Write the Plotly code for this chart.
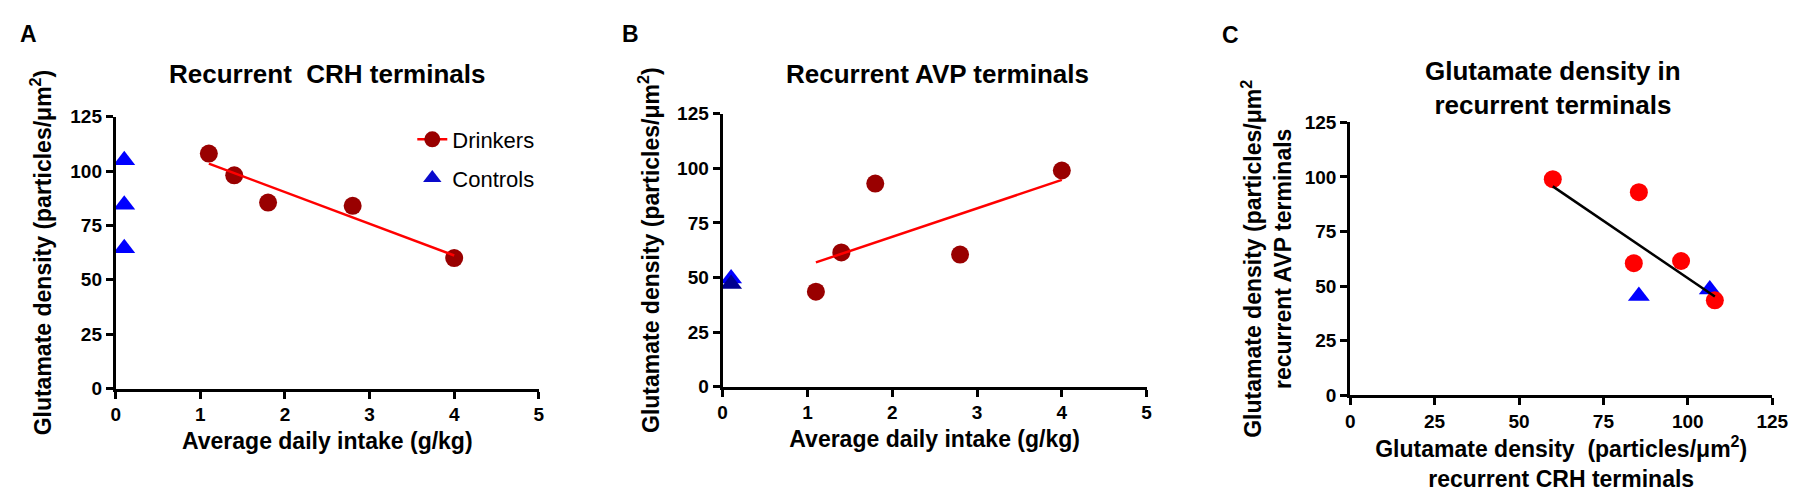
import numpy as np
import plotly.graph_objects as go

# ---------------------------
# Data
# ---------------------------
intake = [1.1, 1.4, 1.8, 2.8, 4.0]                 # g/kg, drinkers
crh_drinkers = [108, 98, 85.5, 84, 60]             # particles/um2, CRH terminals
avp_drinkers = [43.5, 61.5, 93, 60.5, 99]          # particles/um2, AVP terminals

control_intake = [0.1, 0.1, 0.1]
crh_controls = [105, 84.5, 64.5]
control_intake_b = [0.1, 0.1]
avp_controls_b = [49.5, 47]
crh_controls_c = [85.5, 106.5]
avp_controls_c = [45.5, 48.5]

x_ticks_intake = [0, 1, 2, 3, 4, 5]
y_ticks = [0, 25, 50, 75, 100, 125]

DARK_RED = "#990000"
RED = "#FF0000"
BLUE = "#0000FF"
NAVY = "#000090"
FONT = "Liberation Sans, Arial, sans-serif"

W, H = 1800, 494


def px_x(p):
    return p / W


def px_y(p):
    return 1 - p / H


def fit_line(x, y, x0, x1):
    slope, icpt = np.polyfit(x, y, 1)
    return [x0, x1], [icpt + slope * x0, icpt + slope * x1]


fig = go.Figure()

# ---------------------------
# Panel A: CRH vs intake
# ---------------------------
fig.add_trace(go.Scatter(x=control_intake, y=crh_controls, mode="markers",
                         marker=dict(symbol="triangle-up", size=19, color=BLUE),
                         showlegend=False, cliponaxis=False, xaxis="x", yaxis="y"))
fig.add_trace(go.Scatter(x=intake, y=crh_drinkers, mode="markers",
                         marker=dict(symbol="circle", size=18, color=DARK_RED),
                         showlegend=False, cliponaxis=False, xaxis="x", yaxis="y"))
lx, ly = fit_line(intake, crh_drinkers, min(intake), max(intake))
fig.add_trace(go.Scatter(x=lx, y=ly, mode="lines", line=dict(color=RED, width=2.5),
                         showlegend=False, xaxis="x", yaxis="y"))

# legend entries
fig.add_trace(go.Scatter(x=[None], y=[None], mode="lines+markers", name="Drinkers",
                         line=dict(color=RED, width=2.5),
                         marker=dict(symbol="circle", size=18, color=DARK_RED),
                         legendgroup="d", xaxis="x", yaxis="y"))
fig.add_trace(go.Scatter(x=[None], y=[None], mode="markers", name="Controls",
                         marker=dict(symbol="triangle-up", size=19, color="#0A0ACC"),
                         legendgroup="c", xaxis="x", yaxis="y"))

# ---------------------------
# Panel B: AVP vs intake
# ---------------------------
fig.add_trace(go.Scatter(x=control_intake_b, y=avp_controls_b, mode="markers",
                         marker=dict(symbol="triangle-up", size=19, color=[BLUE, NAVY]),
                         showlegend=False, cliponaxis=False, xaxis="x2", yaxis="y2"))
fig.add_trace(go.Scatter(x=intake, y=avp_drinkers, mode="markers",
                         marker=dict(symbol="circle", size=18, color=DARK_RED),
                         showlegend=False, cliponaxis=False, xaxis="x2", yaxis="y2"))
lx, ly = fit_line(intake, avp_drinkers, min(intake), max(intake))
fig.add_trace(go.Scatter(x=lx, y=ly, mode="lines", line=dict(color=RED, width=2.5),
                         showlegend=False, xaxis="x2", yaxis="y2"))

# ---------------------------
# Panel C: AVP vs CRH
# ---------------------------
fig.add_trace(go.Scatter(x=crh_controls_c, y=avp_controls_c, mode="markers",
                         marker=dict(symbol="triangle-up", size=19, color=BLUE),
                         showlegend=False, cliponaxis=False, xaxis="x3", yaxis="y3"))
fig.add_trace(go.Scatter(x=crh_drinkers, y=avp_drinkers, mode="markers",
                         marker=dict(symbol="circle", size=18, color=RED),
                         showlegend=False, cliponaxis=False, xaxis="x3", yaxis="y3"))
all_crh = crh_drinkers + crh_controls_c
all_avp = avp_drinkers + avp_controls_c
lx, ly = fit_line(all_crh, all_avp, min(crh_drinkers), max(crh_drinkers))
fig.add_trace(go.Scatter(x=lx, y=ly, mode="lines", line=dict(color="black", width=2.5),
                         showlegend=False, xaxis="x3", yaxis="y3"))

# ---------------------------
# Axes
# ---------------------------
tickfont = dict(family=FONT, size=19, color="black", weight="bold")
titlefont = dict(family=FONT, size=23, color="black", weight="bold")
axis_common = dict(showline=True, linewidth=3, linecolor="black", ticks="outside",
                   ticklen=7, tickwidth=3, tickcolor="black", showgrid=False,
                   zeroline=False, tickfont=tickfont, fixedrange=True)

ytitle = "Glutamate density (particles/μm<sup>2</sup>)"

fig.update_layout(
    xaxis=dict(axis_common, domain=[px_x(104), px_x(532)], range=[0, 5],
               tickvals=x_ticks_intake, anchor="y",
               title=dict(text="Average daily intake (g/kg)", font=titlefont, standoff=9)),
    yaxis=dict(axis_common, domain=[px_y(387), px_y(103)], range=[0, 125],
               tickvals=y_ticks, anchor="x",
               title=dict(text=ytitle, font=titlefont, standoff=13)),
    xaxis2=dict(axis_common, domain=[px_x(718), px_x(1147)], range=[0, 5],
                tickvals=x_ticks_intake, anchor="y2",
                title=dict(text="Average daily intake (g/kg)", font=titlefont, standoff=9)),
    yaxis2=dict(axis_common, domain=[px_y(385), px_y(100)], range=[0, 125],
                tickvals=y_ticks, anchor="x2",
                title=dict(text=ytitle, font=titlefont, standoff=12)),
    xaxis3=dict(axis_common, domain=[px_x(1353), px_x(1780)], range=[0, 125],
                tickvals=y_ticks, anchor="y3",
                title=dict(text="Glutamate density  (particles/μm<sup>2</sup>)<br>recurrent CRH terminals",
                           font=titlefont, standoff=7)),
    yaxis3=dict(axis_common, domain=[px_y(394), px_y(109)], range=[0, 125],
                tickvals=y_ticks, anchor="x3",
                title=dict(text="Glutamate density (particles/μm<sup>2</sup><br>recurrent AVP terminals",
                           font=titlefont, standoff=7)),
)

# ---------------------------
# Titles and panel letters
# ---------------------------
annos = [
    ("A", 16, 17, 23), ("B", 625, 17, 23), ("C", 1232, 18, 23),
    ("Recurrent  CRH terminals", 318, 58, 26),
    ("Recurrent AVP terminals", 935, 58, 26),
    ("Glutamate density in<br>recurrent terminals", 1558, 73, 26),
]
for text, ax_, ay_, size in annos:
    fig.add_annotation(text=text, x=px_x(ax_), y=px_y(ay_), xref="paper", yref="paper",
                       xanchor="center", yanchor="middle", showarrow=False,
                       font=dict(family=FONT, size=size, color="black", weight="bold"))

fig.update_layout(
    width=W, height=H,
    margin=dict(l=0, r=0, t=0, b=0),
    paper_bgcolor="white", plot_bgcolor="white",
    legend=dict(x=px_x(404), y=px_y(105), xanchor="left", yanchor="top",
                font=dict(family=FONT, size=22, color="black"),
                bgcolor="rgba(0,0,0,0)", tracegroupgap=7, itemwidth=30),
)

fig.write_html("out.html")
